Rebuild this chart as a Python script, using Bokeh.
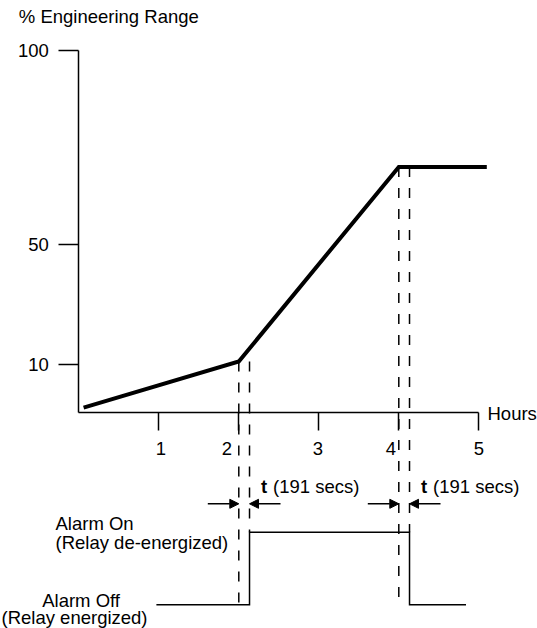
import numpy as np
from bokeh.plotting import figure
from bokeh.models import Range1d, LinearAxis, FixedTicker, ColumnDataSource, Arrow, NormalHead
from bokeh.core.properties import value
from bokeh.embed import file_html
from bokeh.resources import INLINE

# ---------------- data ----------------
hours = [0.06, 2.0, 4.0, 5.1]            # time, h
pct_range = [1, 11, 70, 70]              # % engineering range
x_ticks = [1, 2, 3, 4, 5]
x_tick_labels = ["1", "2", "3", "4", "5"]
y_ticks = [10, 50, 100]
y_tick_labels = ["10", "50", "100"]

alarm_on_time = 2.0                      # h
alarm_off_time = 4.0                     # h
delay_h = 0.134                          # delay t as drawn (h)
delay_text = "(191 secs)"
signal_start, signal_end = 0.97, 4.84    # h
signal_states = [0, 0, 1, 1, 0, 0]
alarm_labels = ["Alarm On", "(Relay de-energized)", "Alarm Off", "(Relay energized)"]

# ---------------- schematic layout ----------------
W, H = 537, 628
X0_PX, PX_PER_H = 78.3, 80.0
TOP = 412
PCT_ANCHORS = [0, 10, 50, 100]
POS_ANCHORS = [0, 48, 168, 362]           # schematic (non-linear) vertical scale


def to_y(pct):
    return np.interp(pct, PCT_ANCHORS, POS_ANCHORS)


LOW_Y, HIGH_Y = -192.3, -119.7
ARROW_Y = -91.3


def alarm_y(states):
    return LOW_Y + np.asarray(states, dtype=float) * (HIGH_Y - LOW_Y)


FONT = "Liberation Sans"
FS = "18.5px"

p = figure(width=W, height=H,
           x_range=Range1d(-X0_PX / PX_PER_H, (W - X0_PX) / PX_PER_H),
           y_range=Range1d(TOP - H, TOP),
           output_backend="svg", toolbar_location=None,
           x_axis_type=None, y_axis_type=None, min_border=0, title=None)
p.outline_line_color = None

# axes
xaxis = LinearAxis(fixed_location=0, bounds=(0, 5), ticker=FixedTicker(ticks=x_ticks),
                   major_tick_in=0, major_tick_out=18, minor_tick_in=0, minor_tick_out=0,
                   axis_line_width=1.5, major_tick_line_width=1.5,
                   major_label_overrides={t: "" for t in x_ticks})
p.add_layout(xaxis, "below")

ytick_pos = [float(to_y(v)) for v in y_ticks]
yaxis = LinearAxis(fixed_location=0, bounds=(0, float(to_y(100))),
                   ticker=FixedTicker(ticks=ytick_pos),
                   major_label_overrides={pos: lab for pos, lab in zip(ytick_pos, y_tick_labels)},
                   major_tick_in=0, major_tick_out=20, minor_tick_in=0, minor_tick_out=0,
                   axis_line_width=1.5, major_tick_line_width=1.5,
                   major_label_standoff=10, major_label_text_font=FONT,
                   major_label_text_font_size=FS, major_label_text_color="black")
p.add_layout(yaxis, "left")

# main curve
p.line(hours, to_y(pct_range), line_width=4, color="black", line_join="miter")

# dashed reference lines
trig = [alarm_on_time, alarm_off_time]
delayed = [t + delay_h for t in trig]
trig_top = to_y(np.interp(trig, hours, pct_range))
p.segment(x0=trig, y0=trig_top, x1=trig, y1=[LOW_Y] * 2,
          line_dash="10 11", line_width=1.5, color="black")
p.segment(x0=delayed, y0=trig_top, x1=delayed, y1=[HIGH_Y] * 2,
          line_dash="10 11", line_width=1.5, color="black")

# alarm signal
signal_times = [signal_start, delayed[0], delayed[0], delayed[1], delayed[1], signal_end]
p.line(signal_times, alarm_y(signal_states), line_width=1.5, color="black", line_join="miter")

# arrows
L = 31 / PX_PER_H
arrow_src = ColumnDataSource(dict(
    x0=[trig[0] - L, delayed[0] + L, trig[1] - L, delayed[1] + L],
    x1=[trig[0], delayed[0], trig[1], delayed[1]],
    y=[ARROW_Y] * 4))
p.add_layout(Arrow(end=NormalHead(size=9, fill_color="black", line_color="black", line_width=1),
                   x_start="x0", y_start="y", x_end="x1", y_end="y",
                   source=arrow_src, line_width=1.5, line_color="black"))

txt = dict(text_font=value(FONT), text_font_size=FS, text_color="black",
           text_baseline="middle")

# x tick labels
p.text(x=x_ticks, y=[0] * len(x_ticks), text=x_tick_labels,
       x_offset=[2, -12, -1, -8, 0], y_offset=36, text_align="center", **txt)
# axis titles
p.text(x=[0], y=[float(to_y(100))], text=["% Engineering Range"],
       x_offset=-60, y_offset=-34, text_align="left", **txt)
p.text(x=[5], y=[0], text=["Hours"], x_offset=8.7, y_offset=0.5, text_align="left", **txt)

# delay labels
p.text(x=delayed, y=[ARROW_Y] * 2, text=["t", "t"], x_offset=11.5, y_offset=-17.8,
       text_align="left", text_font_style="bold", **txt)
p.text(x=delayed, y=[ARROW_Y] * 2, text=[delay_text] * 2, x_offset=23.5, y_offset=-17.8,
       text_align="left", **txt)

# alarm state labels
p.text(x=[0] * 4, y=[HIGH_Y, HIGH_Y, LOW_Y, LOW_Y], text=alarm_labels,
       x_offset=[-23.3, -23.3, -36.6, -77.3], y_offset=[-9, 10, -4, 13],
       text_align="left", **txt)

open("out.html", "w").write(file_html(p, INLINE))
